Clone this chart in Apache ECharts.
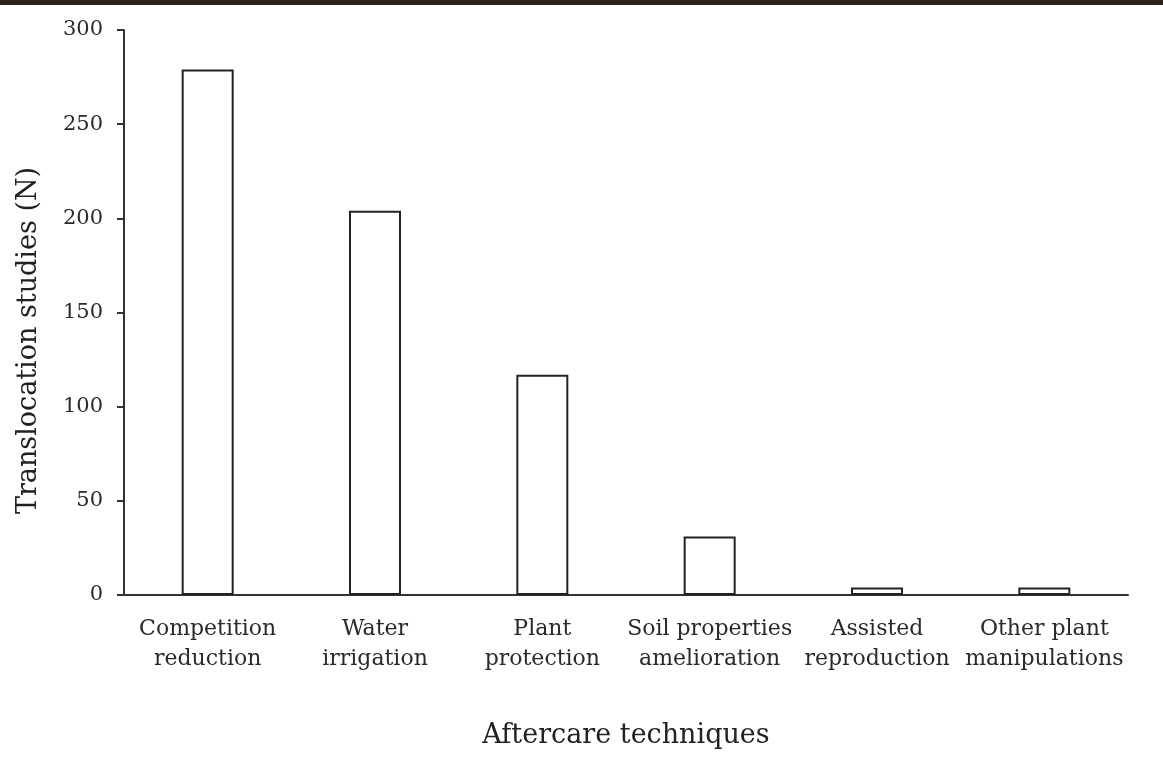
<!DOCTYPE html>
<html>
<head>
<meta charset="utf-8">
<script src="https://cdn.jsdelivr.net/npm/echarts@6/dist/echarts.min.js"></script>
<style>
html,body{margin:0;padding:0;background:#fff;}
#strip{position:absolute;left:0;top:0;width:1163px;height:5px;background:#2e1f18;z-index:2;}
#chart{width:1163px;height:762px;}
</style>
</head>
<body>
<div id="strip"></div>
<div id="chart"></div>
<script>
const categories = ["Competition\nreduction", "Water\nirrigation", "Plant\nprotection", "Soil properties\namelioration", "Assisted\nreproduction", "Other plant\nmanipulations"];
const studies = [279, 204, 117, 31, 4, 4];
const yTicks = [0, 50, 100, 150, 200, 250, 300];

const chart = echarts.init(document.getElementById('chart'));
const serif = '"DejaVu Serif", "Liberation Serif", serif';
chart.setOption({
  animation: false,
  backgroundColor: '#fff',
  grid: {left: 124, right: 35, top: 30, bottom: 167},
  xAxis: {
    type: 'category',
    data: categories,
    name: 'Aftercare techniques',
    nameLocation: 'middle',
    nameGap: 127,
    nameTextStyle: {fontFamily: serif, fontSize: 27, color: '#222'},
    axisLine: {lineStyle: {color: '#333', width: 2}},
    axisTick: {show: false},
    axisLabel: {fontFamily: serif, fontSize: 22, color: '#2a2a2a', lineHeight: 30, margin: 19, interval: 0}
  },
  yAxis: {
    type: 'value',
    min: yTicks[0],
    max: yTicks[yTicks.length - 1],
    interval: 50,
    name: 'Translocation studies (N)',
    nameLocation: 'middle',
    nameGap: 82,
    nameTextStyle: {fontFamily: serif, fontSize: 27, color: '#222', padding: [0, 56, 0, 0]},
    axisLine: {show: true, lineStyle: {color: '#333', width: 2}},
    axisTick: {show: true, length: 7, lineStyle: {color: '#333', width: 2}},
    axisLabel: {fontFamily: serif, fontSize: 21, color: '#2a2a2a', margin: 21},
    splitLine: {show: false}
  },
  series: [{
    type: 'bar',
    data: studies,
    barWidth: 52,
    itemStyle: {color: '#fff', borderColor: '#222', borderWidth: 2}
  }]
});
</script>
</body>
</html>
